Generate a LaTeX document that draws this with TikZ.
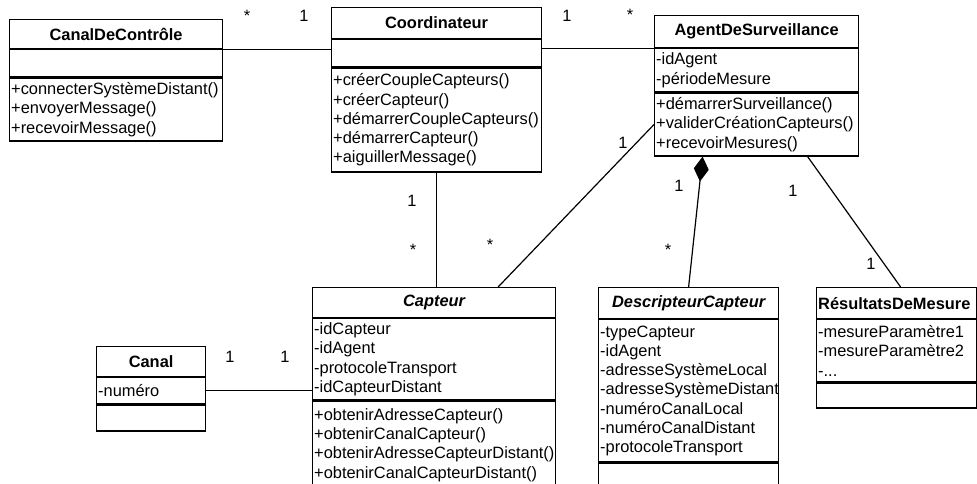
\documentclass[tikz,border=0pt]{standalone}
\usepackage{fontspec}
\setmainfont{Liberation Sans}
\usetikzlibrary{calc,arrows.meta}
\hyphenpenalty=10000
\exhyphenpenalty=10000

\begin{document}
\begin{tikzpicture}[x=0.5pt,y=-0.5pt,
    cls/.style={draw, line width=0.6pt, anchor=north west, inner xsep=0.8pt, inner ysep=0pt, align=left,
        font=\fontsize{8.2}{9.6}\selectfont},
    hd/.style={cls, align=center, font=\fontsize{8.2}{9.6}\selectfont\bfseries},
    hdi/.style={hd, font=\fontsize{8.2}{9.6}\selectfont\bfseries\itshape},
    mult/.style={inner sep=0pt, font=\fontsize{8.2}{9.6}\selectfont},
    assoc/.style={draw, line width=0.6pt}]
        \useasboundingbox (0,0) rectangle (977,483);
        % CanalDeControle
        \node[hd, text width=104.9pt, minimum height=14.5pt](cdc)at(9,19){CanalDeContrôle};
        \node[cls, text width=104.9pt, minimum height=13.5pt](cdc-a)at(cdc.south west){};
        \node[cls, text width=104.9pt, minimum height=31.5pt](cdc-m)at(cdc-a.south west){+connecterSystèmeDistant()\\+envoyerMessage()\\+recevoirMessage()};
        % Coordinateur
        \node[hd, text width=103.4pt, minimum height=15.5pt](coord)at(331,7){Coordinateur};
        \node[cls, text width=103.4pt, minimum height=13.5pt](coord-a)at(coord.south west){};
        \node[cls, text width=103.4pt, minimum height=52pt](coord-m)at(coord-a.south west){+créerCoupleCapteurs()\\+créerCapteur()\\+démarrerCoupleCapteurs()\\+démarrerCapteur()\\+aiguillerMessage()};
        % AgentDeSurveillance
        \node[hd, text width=100.4pt, minimum height=16pt](agent)at(654,15){AgentDeSurveillance};
        \node[cls, text width=100.4pt, minimum height=21.5pt](agent-a)at(agent.south west){-idAgent\\-périodeMesure};
        \node[cls, text width=100.4pt, minimum height=31.5pt](agent-m)at(agent-a.south west){+démarrerSurveillance()\\+validerCréationCapteurs()\\+recevoirMesures()};
        % Canal
        \node[hd, text width=52.9pt, minimum height=15pt](canal)at(96,346){Canal};
        \node[cls, text width=52.9pt, minimum height=13pt](canal-a)at(canal.south west){-numéro};
        \node[cls, text width=52.9pt, minimum height=13pt](canal-m)at(canal-a.south west){};
        % Capteur
        \node[hdi, text width=119.9pt, minimum height=15pt](capteur)at(312,287){Capteur};
        \node[cls, text width=119.9pt, minimum height=40.5pt](capteur-a)at(capteur.south west){-idCapteur\\-idAgent\\-protocoleTransport\\-idCapteurDistant};
        \node[cls, text width=119.9pt, minimum height=44pt](capteur-m)at(capteur-a.south west){+obtenirAdresseCapteur()\\+obtenirCanalCapteur()\\+obtenirAdresseCapteurDistant()\\+obtenirCanalCapteurDistant()};
        % DescripteurCapteur
        \node[hdi, text width=88.4pt, minimum height=15.5pt](descr)at(598,287){DescripteurCapteur};
        \node[cls, text width=88.4pt, minimum height=71pt](descr-a)at(descr.south west){-typeCapteur\\-idAgent\\-adresseSystèmeLocal\\-adresseSystèmeDistant\\-numéroCanalLocal\\-numéroCanalDistant\\-protocoleTransport};
        \node[cls, text width=88.4pt, minimum height=25pt](descr-m)at(descr-a.south west){};
        % ResultatsDeMesure
        \node[hd, align=left, text width=78.4pt, minimum height=15.5pt](res)at(816,287){RésultatsDeMesure};
        \node[cls, text width=78.4pt, minimum height=31pt](res-a)at(res.south west){-mesureParamètre1\\-mesureParamètre2\\-...};
        \node[cls, text width=78.4pt, minimum height=12.5pt](res-m)at(res-a.south west){};
        % associations
        \path[assoc](cdc.south east)to(cdc.south east -| coord.west);
        \path[assoc](agent.south west)to(agent.south west -| coord.east);
        \path[assoc](coord-m.south)to(coord-m.south |- capteur.north);
        \path[assoc](agent-m.west)to($(capteur.north)+(64,0)$);
        \path[assoc, {Diamond[length=12.5pt,width=7.5pt]}-]($(agent-m.south)+(-54,0)$)to(descr.north);
        \path[assoc]($(agent-m.south)+(51,0)$)to($(res.north)+(4,0)$);
        \path[assoc](canal-a.east)to(canal-a.east -| capteur-a.west);
        % multiplicities
        \node[mult](m1)at(247,16){*};
        \node[mult](m2)at(304,16){1};
        \node[mult](m3)at(567,16){1};
        \node[mult](m4)at(630,15){*};
        \node[mult](m5)at(412,201){1};
        \node[mult](m6)at(413,250){*};
        \node[mult](m7)at(623,143){1};
        \node[mult](m8)at(490,245){*};
        \node[mult](m9)at(679,186){1};
        \node[mult](m10)at(668,250){*};
        \node[mult](m11)at(793,191){1};
        \node[mult](m12)at(871,264){1};
        \node[mult](m13)at(230,357){1};
        \node[mult](m14)at(285,357){1};
    \end{tikzpicture}
\end{document}
